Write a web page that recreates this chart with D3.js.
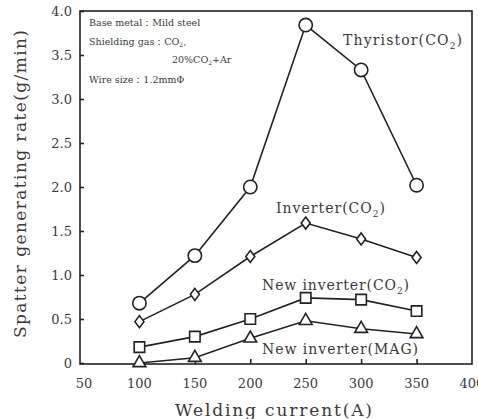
<html>
	<head>
		<title>Spatter generating rate</title>
		<style>
			body { margin: 0; background: #ffffff; }
			text { font-family: "DejaVu Serif", "Liberation Serif", serif; fill: #3a3a3a; }
		</style>
	</head>
	<body>

		<div id="chart"></div>

		<script src="https://cdn.jsdelivr.net/npm/d3@7"></script>
		<script>
			(function(){
				"use strict";

				// welding current (A)
				var currents = [100, 150, 200, 250, 300, 350];

				// spatter rate (g/min) per series
				var thyristor = [0.68, 1.22, 2.0, 3.84, 3.33, 2.02];
				var inverter = [0.47, 0.78, 1.21, 1.59, 1.41, 1.20];
				var newInverterCO2 = [0.18, 0.30, 0.50, 0.74, 0.72, 0.59];
				var newInverterMAG = [0.0, 0.06, 0.28, 0.48, 0.39, 0.33];

				var xTicks = [50, 100, 150, 200, 250, 300, 350, 400];
				var yTicks = [0, 0.5, 1.0, 1.5, 2.0, 2.5, 3.0, 3.5, 4.0];

				var series = [
					{ values: thyristor, shape: d3.symbolCircle, size: 140 },
					{ values: inverter, shape: "diamond", size: 0 },
					{ values: newInverterCO2, shape: d3.symbolSquare, size: 110 },
					{ values: newInverterMAG, shape: d3.symbolTriangle, size: 70 }
				];

				var width = 478, height = 419;
				var box = { left: 80, right: 472, top: 11, bottom: 364 };

				var x = d3.scaleLinear()
							.domain([50, 400])
							.range([84, 472]);

				var y = d3.scaleLinear()
							.domain([0, 4])
							.range([363, 11]);

				var svg = d3.select("#chart")
								.append("svg")
									.attr("width", width)
									.attr("height", height);

				// frame
				svg.append("rect")
					.attr("x", box.left)
					.attr("y", box.top)
					.attr("width", box.right - box.left)
					.attr("height", box.bottom - box.top)
					.style("fill", "none")
					.style("stroke", "#222")
					.style("stroke-width", 1.6);

				// left axis, ticks pointing inward
				var yAxis = d3.axisRight(y)
								.tickValues(yTicks)
								.tickSize(4)
								.tickFormat("");
				var yGuide = svg.append("g")
								.attr("transform", "translate(" + box.left + ",0)")
								.call(yAxis);
				yGuide.select(".domain").remove();
				yGuide.selectAll("line").style("stroke", "#222").style("stroke-width", 1.6);

				svg.append("g").selectAll("text")
					.data(yTicks)
					.enter().append("text")
						.attr("x", 72)
						.attr("y", function(d){ return y(d); })
						.attr("dy", "0.35em")
						.attr("text-anchor", "end")
						.style("font-size", "13px")
						.text(function(d){ return d === 0 ? "0" : d3.format(".1f")(d); });

				// bottom axis, ticks pointing inward
				var xAxis = d3.axisTop(x)
								.tickValues(xTicks.slice(1, -1))
								.tickSize(5)
								.tickFormat("");
				var xGuide = svg.append("g")
								.attr("transform", "translate(0," + box.bottom + ")")
								.call(xAxis);
				xGuide.select(".domain").remove();
				xGuide.selectAll("line").style("stroke", "#222").style("stroke-width", 1.6);

				svg.append("g").selectAll("text")
					.data(xTicks)
					.enter().append("text")
						.attr("x", function(d){ return x(d); })
						.attr("y", 383)
						.attr("dy", "0.35em")
						.attr("text-anchor", "middle")
						.style("font-size", "13px")
						.text(function(d){ return d; });

				// axis titles
				svg.append("text")
					.attr("x", 175)
					.attr("y", 410)
					.attr("dy", "0.35em")
					.attr("textLength", 197)
					.attr("lengthAdjust", "spacing")
					.style("font-size", "17px")
					.text("Welding current(A)");

				svg.append("text")
					.attr("transform", "translate(20,338) rotate(-90)")
					.attr("dy", "0.35em")
					.attr("textLength", 308)
					.attr("lengthAdjust", "spacing")
					.style("font-size", "17px")
					.text("Spatter generating rate(g/min)");

				// lines and markers
				var line = d3.line()
							.x(function(d, i){ return x(currents[i]); })
							.y(function(d){ return y(d); });

				var diamond = function(cx, cy){
					return "M" + cx + "," + (cy - 6) + "L" + (cx + 4.5) + "," + cy +
						"L" + cx + "," + (cy + 6) + "L" + (cx - 4.5) + "," + cy + "Z";
				};

				series.forEach(function(s){
					svg.append("path")
						.datum(s.values)
						.attr("d", line)
						.style("fill", "none")
						.style("stroke", "#222")
						.style("stroke-width", 1.6);

					svg.append("g").selectAll("path")
						.data(s.values)
						.enter().append("path")
							.attr("d", function(d, i){
								if (s.shape === "diamond") return diamond(x(currents[i]), y(d));
								return d3.symbol().type(s.shape).size(s.size)();
							})
							.attr("transform", function(d, i){
								if (s.shape === "diamond") return null;
								return "translate(" + x(currents[i]) + "," + y(d) + ")";
							})
							.style("fill", "#fff")
							.style("stroke", "#222")
							.style("stroke-width", 1.6);
				});

				// series labels
				var labels = [
					{ text: "Thyristor", gas: "CO", sub: "2", x: 343, y: 40, len: 119 },
					{ text: "Inverter", gas: "CO", sub: "2", x: 276, y: 208, len: 109 },
					{ text: "New inverter", gas: "CO", sub: "2", x: 262, y: 285, len: 147 },
					{ text: "New inverter", gas: "MAG", sub: "", x: 262, y: 349, len: 156 }
				];

				labels.forEach(function(l){
					var t = svg.append("text")
								.attr("x", l.x)
								.attr("y", l.y)
								.attr("dy", "0.35em")
								.attr("textLength", l.len)
								.attr("lengthAdjust", "spacing")
								.style("font-size", "14px");
					t.append("tspan").text(l.text + "(" + l.gas);
					if (l.sub) {
						t.append("tspan").attr("dy", "4").style("font-size", "9px").text(l.sub);
						t.append("tspan").attr("dy", "-4").text(")");
					} else {
						t.append("tspan").text(")");
					}
				});

				// conditions note
				var note = svg.append("g").style("font-size", "9.5px");
				note.append("text").attr("x", 89).attr("y", 26).text("Base metal：Mild steel");
				var sg = note.append("text").attr("x", 89).attr("y", 45);
				sg.append("tspan").text("Shielding gas：CO");
				sg.append("tspan").attr("dy", 2).style("font-size", "6px").text("2");
				sg.append("tspan").attr("dy", -2).text(",");
				var mix = note.append("text").attr("x", 172).attr("y", 63);
				mix.append("tspan").text("20%CO");
				mix.append("tspan").attr("dy", 2).style("font-size", "6px").text("2");
				mix.append("tspan").attr("dy", -2).text("+Ar");
				note.append("text").attr("x", 89).attr("y", 83).text("Wire size：1.2mmΦ");

			})();
		</script>

	</body>
</html>
